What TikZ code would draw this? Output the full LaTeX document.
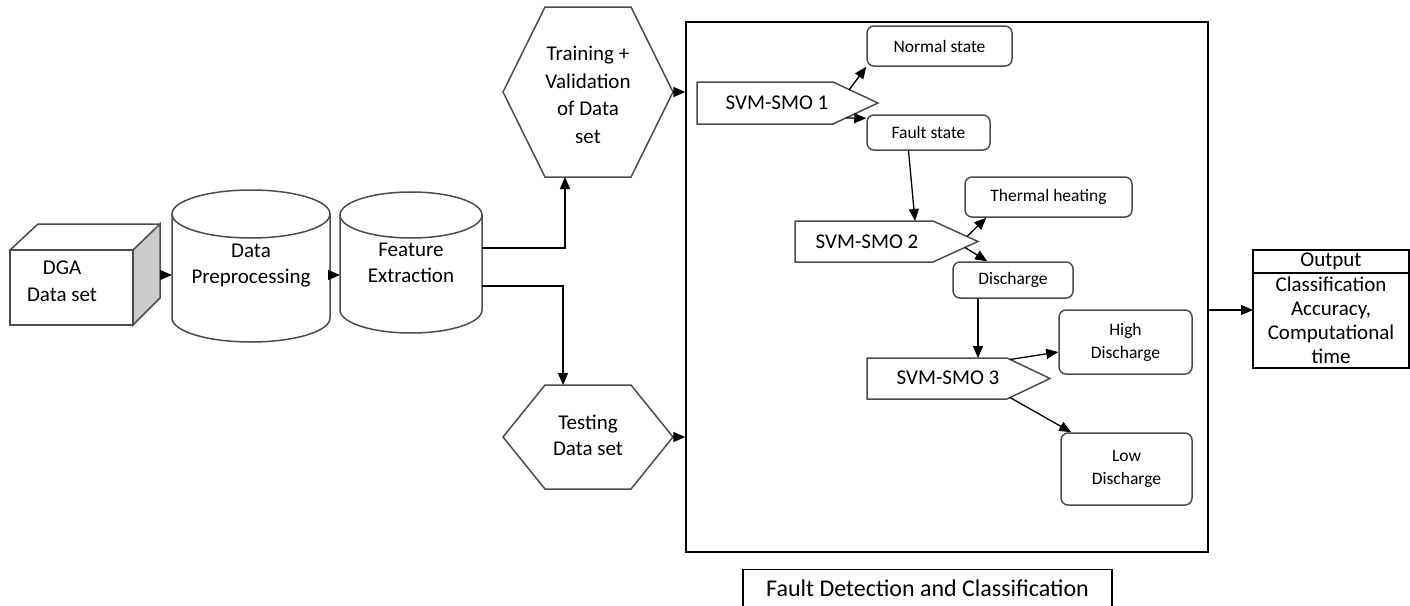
\documentclass[tikz,border=0pt]{standalone}
\usepackage{fontspec}
\setmainfont{Carlito}
\usetikzlibrary{arrows.meta}

\begin{document}
\begin{tikzpicture}[x=1pt,y=1pt,
	shapeline/.style={draw=black!70, line width=1.5pt},
	arr/.style={-{Triangle[length=12pt,width=10pt]}, line width=1.3pt},
	txt/.style={align=center, outer sep=0pt, font=\fontsize{21}{26}\selectfont},
	hextxt/.style={txt, font=\fontsize{21}{27.5}\selectfont},
	smalltxt/.style={align=center, font=\fontsize{17.5}{23}\selectfont},
	state/.style={shapeline, rounded corners=7pt, smalltxt, inner sep=0pt},
	outbox/.style={draw, line width=1.2pt, inner sep=0pt, minimum width=156}]
	\clip (0,0) rectangle (1410,-605);
	% DGA cube
	\draw[shapeline, fill=black!20] (133,-250) -- (160,-224) -- (160,-298) -- (133,-325) -- cycle;
	\draw[shapeline] (10,-250) rectangle (133,-325);
	\draw[shapeline] (10,-250) -- (38,-224) -- (160,-224);
	\node[txt, font=\fontsize{21}{27}\selectfont] (dga) at (62,-281) {DGA\\Data set};
	\coordinate (dgaR) at (160,-275);
	% drums
	\draw[shapeline] (172,-214) -- (172,-318) arc (180:360:79pt and 24pt) -- (330,-214);
	\draw[shapeline] (251,-214) ellipse (79pt and 24pt);
	\node[txt, minimum width=158, minimum height=152] (prep) at (251,-266) {Data\\Preprocessing};
	\draw[shapeline] (340,-215) -- (340,-310) arc (180:360:71pt and 23pt) -- (482,-215);
	\draw[shapeline] (411,-215) ellipse (71pt and 23pt);
	\node[txt, minimum width=142, minimum height=141] (feat) at (411,-263) {Feature\\Extraction};
	% hexagons
	\draw[shapeline] (503,-92) -- (545,-7) -- (631,-7) -- (673,-92) -- (631,-177) -- (545,-177) -- cycle;
	\node[hextxt] (train) at (588,-95) {Training +\\Validation\\of Data\\set};
	\coordinate (trainR) at (673,-92);
	\coordinate (trainB) at (565,-177);
	\draw[shapeline] (503,-437) -- (545,-385) -- (631,-385) -- (673,-437) -- (631,-489) -- (545,-489) -- cycle;
	\node[txt] (test) at (588,-435) {Testing\\Data set};
	\coordinate (testR) at (673,-437);
	\coordinate (testT) at (563,-385);
	% classifier panel
	\node[draw, line width=1.3pt, minimum width=522, minimum height=530, inner sep=0pt] (panel) at (947,-287) {};
	% SVM-SMO 1
	\draw[shapeline] (697,-82) -- (833,-82) -- (878,-103) -- (833,-124) -- (697,-124) -- cycle;
	\node[txt] (svma) at (777,-103) {SVM-SMO 1};
	\coordinate (s1up) at (849,-90);
	\coordinate (s1dn) at (846,-118);
	\node[state, minimum width=145, minimum height=40] (normal) at (939.5,-46) {Normal state};
	\node[state, minimum width=123, minimum height=35] (fault) at (928.5,-132.5) {Fault state};
	% SVM-SMO 2
	\draw[shapeline] (795,-221) -- (933,-221) -- (978,-241.5) -- (933,-262) -- (795,-262) -- cycle;
	\node[txt] (svmb) at (867,-242) {SVM-SMO 2};
	\coordinate (s2top) at (915,-221);
	\coordinate (s2up) at (967,-236.5);
	\coordinate (s2dn) at (965,-247.5);
	\node[state, minimum width=167, minimum height=40] (thermal) at (1048.5,-197) {Thermal heating};
	\node[state, minimum width=120, minimum height=36] (disch) at (1013,-280) {Discharge};
	% SVM-SMO 3
	\draw[shapeline] (867,-358) -- (1007,-358) -- (1050,-378.5) -- (1007,-399) -- (867,-399) -- cycle;
	\node[txt] (svmc) at (948,-378) {SVM-SMO 3};
	\coordinate (s3top) at (978,-358);
	\coordinate (s3up) at (1010,-359.5);
	\coordinate (s3dn) at (1010,-397.5);
	\node[state, minimum width=133, minimum height=64] (high) at (1125.5,-342) {High\\Discharge};
	\node[state, minimum width=131, minimum height=72] (low) at (1126.5,-469) {Low\\Discharge};
	% output
	\node[outbox, txt, minimum height=23] (outhead) at (1331,-261.5) {Output};
	\node[outbox, txt, font=\fontsize{21}{24}\selectfont, minimum height=95] (outbody) at (1331,-320.5) {Classification\\Accuracy,\\Computational\\time};
	\coordinate (outin) at ([yshift=10.5]outbody.west);
	% caption box, runs off the bottom
	\node[draw, line width=1.2pt, minimum width=369, anchor=north, inner ysep=12pt, text height=15pt, text depth=5pt, font=\fontsize{24}{28}\selectfont] (caption) at (927.5,-569) {Fault Detection and Classification};
	% connectors
	\draw[arr] (dgaR) -- (dgaR -| prep.west);
	\draw[arr] (prep.east |- dgaR) -- (feat.west |- dgaR);
	\draw[arr] ([yshift=15]feat.east) -| (trainB);
	\draw[arr] ([yshift=-23]feat.east) -| (testT);
	\draw[arr] (trainR) -- (trainR -| panel.west);
	\draw[arr] (testR) -- (testR -| panel.west);
	\draw[arr] (s1up) -- (normal.south west);
	\draw[arr] (s1dn) -- ([yshift=-4]fault.north west);
	\draw[arr] ([xshift=-20]fault.south) -- (s2top);
	\draw[arr] (s2up) -- ([xshift=22]thermal.south west);
	\draw[arr] (s2dn) -- ([xshift=35]disch.north west);
	\draw[arr] ([xshift=-35]disch.south) -- (s3top);
	\draw[arr] (s3up) -- ([yshift=-10]high.west);
	\draw[arr] (s3dn) -- ([xshift=11]low.north west);
	\draw[arr] (outin -| panel.east) -- (outin);
\end{tikzpicture}
\end{document}
